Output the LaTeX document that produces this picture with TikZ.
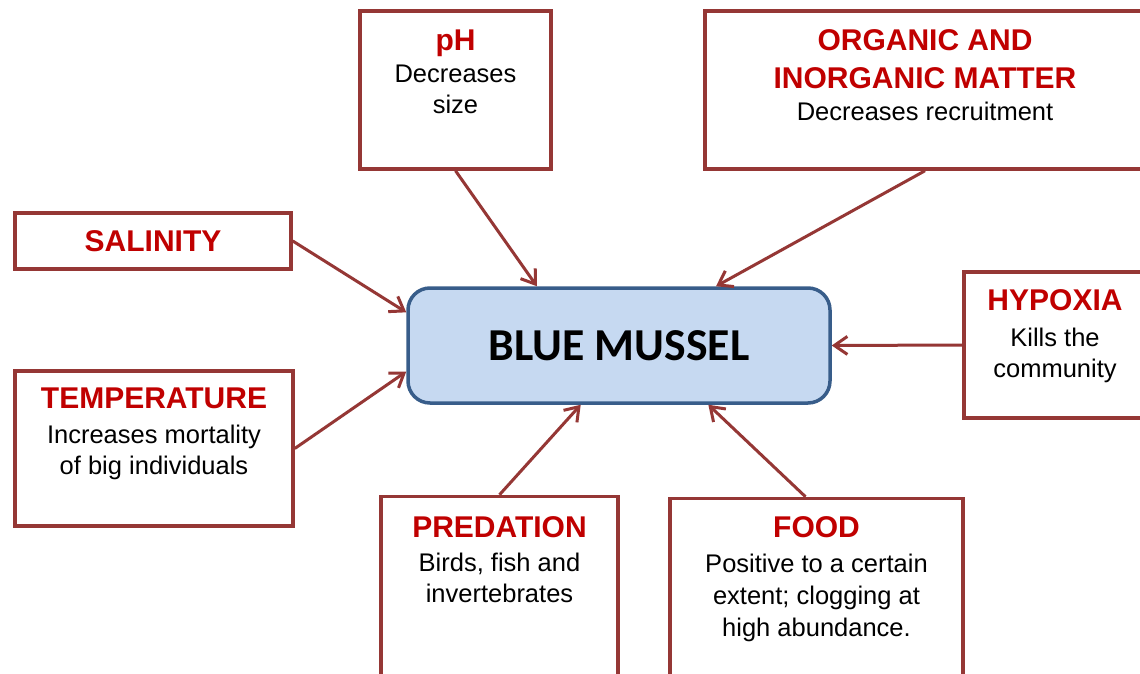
\documentclass[tikz,border=0pt]{standalone}
\usepackage{fontspec}
\setmainfont{Liberation Sans}
\newfontfamily\musselfont{Carlito}
\usepackage{xcolor}
\usetikzlibrary{arrows.meta, calc}

\definecolor{boxred}{HTML}{953735}
\definecolor{titlered}{HTML}{C00000}
\definecolor{musselblue}{HTML}{C6D9F1}
\definecolor{musseledge}{HTML}{385D8A}
\newcommand{\factorname}[1]{{\fontsize{30}{36}\selectfont\bfseries\color{titlered}#1}}

\begin{document}
\begin{tikzpicture}[x=1pt,y=-1pt,
    factorbox/.style={draw=boxred, line width=3.5pt, rectangle, inner sep=0pt},
    factortext/.style={anchor=north, align=center, inner sep=0pt,
      font=\fontsize{25.5}{31}\selectfont},
    influence/.style={boxred, line width=3pt,
      -{Straight Barb[length=13pt,width=18pt]}}
  ]
  \clip (0,0) rectangle (1140,674);
  \fill[white] (0,0) rectangle (1140,674);

  % centre
  \node[draw=musseledge, fill=musselblue, line width=3.5pt, rounded corners=22pt,
        minimum width=422pt, minimum height=115pt] (mussel) at (619,345.5)
        {\musselfont\fontsize{45.7}{50}\selectfont\bfseries BLUE MUSSEL};

  % factors
  \node[factorbox, minimum width=191pt, minimum height=158pt] (ph) at (455.5,90) {};
  \node[factorbox, minimum width=440pt, minimum height=158pt] (organic) at (925,90) {};
  \node[factorbox, minimum width=276pt, minimum height=56pt] (salinity) at (153,241)
    {\factorname{SALINITY}};
  \node[factorbox, minimum width=278pt, minimum height=155pt] (temp) at (154,448.5) {};
  \node[factorbox, minimum width=182pt, minimum height=146pt] (hypoxia) at (1055,345) {};
  \node[factorbox, minimum width=237pt, minimum height=205pt] (predation) at (499.5,599) {};
  \node[factorbox, minimum width=293pt, minimum height=205pt] (food) at (816.5,601) {};

  \node[factortext] (phlabel) at ([yshift=-20pt]ph.north)
    {\factorname{pH}\\[1pt]Decreases\\size};
  \node[factortext] (organiclabel) at ([yshift=-20pt]organic.north)
    {\factorname{ORGANIC AND}\\[7pt]\factorname{INORGANIC MATTER}\\[1pt]Decreases recruitment};
  \node[factortext] (templabel) at ([yshift=-18pt]temp.north)
    {\factorname{TEMPERATURE}\\[4pt]Increases mortality\\of big individuals};
  \node[factortext] (hypoxialabel) at ([yshift=-19pt]hypoxia.north)
    {\factorname{HYPOXIA}\\[5pt]Kills the\\community};
  \node[factortext] (predationlabel) at ([yshift=-22pt]predation.north)
    {\factorname{PREDATION}\\[3pt]Birds, fish and\\invertebrates};
  \node[factortext] (foodlabel) at ([yshift=-20pt]food.north)
    {\factorname{FOOD}\\[4pt]Positive to a certain\\[1pt]extent; clogging at\\[1pt]high abundance.};

  \path[influence]
    (ph.south) edge ($(mussel.north west)!0.307!(mussel.north east)$)
    (organic.south) edge ($(mussel.north west)!0.728!(mussel.north east)$)
    (salinity.east) edge ($(mussel.north west)!0.22!(mussel.south west)$)
    (temp.east) edge ($(mussel.north west)!0.72!(mussel.south west)$)
    (predation.north) edge ($(mussel.south west)!0.41!(mussel.south east)$)
    ([xshift=-11pt]food.north) edge ($(mussel.south west)!0.71!(mussel.south east)$)
    (hypoxia.west) edge (mussel.east);
\end{tikzpicture}
\end{document}
